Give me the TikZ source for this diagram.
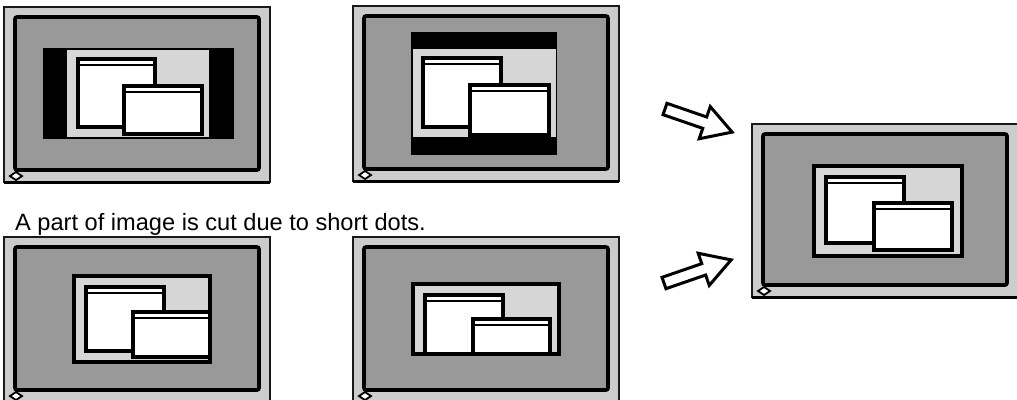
\documentclass[tikz,border=0pt]{standalone}
\usepackage{fontspec}
\setmainfont{Liberation Sans}
\usepackage{xcolor}
\definecolor{bezelgray}{HTML}{CCCCCC}
\definecolor{screengray}{HTML}{999999}
\definecolor{imagegray}{HTML}{D6D6D6}
\tikzstyle{bezel} = [draw=black!90, line width=2pt, fill=bezelgray]
\tikzstyle{screen} = [draw=black, line width=3.6pt, rounded corners=2pt, fill=screengray]
\tikzstyle{framed} = [draw=black, line width=3.4pt, fill=imagegray]
\tikzstyle{plain} = [fill=imagegray]
\tikzstyle{window} = [draw=black, line width=3.2pt, fill=white]
\tikzstyle{titlebar} = [draw=black, line width=2pt]
\tikzstyle{knob} = [draw=black, line width=1.8pt, fill=white]
\tikzstyle{hollow} = [draw=black, line width=3pt, fill=white, line join=miter]
\tikzstyle{note} = [anchor=base west, inner sep=0pt, font=\fontsize{23.6}{28}\selectfont]

\begin{document}
\begin{tikzpicture}[x=1pt, y=-1pt]
    \useasboundingbox (0,0) rectangle (1017,399);
    \clip (0,0) rectangle (1017,399);

    % monitors: bezel, screen, knob
    \foreach \mx/\my/\mh in {4/7/175, 353/6/175, 4/237/165, 353/237/165, 752/124/173} {
        \draw[bezel] (\mx,\my) rectangle (\mx+266,\my+\mh);
        \draw[black, line width=3pt] (\mx,\my+\mh) -- (\mx+266,\my+\mh);
        \draw[screen] (\mx+11,\my+10) rectangle (\mx+255,\my+\mh-12);
        \draw[knob] (\mx+12,\my+\mh-10) -- (\mx+18,\my+\mh-6) -- (\mx+12,\my+\mh-2) -- (\mx+6,\my+\mh-6) -- cycle;
    }

    % shown images
    \fill[black] (43,48) rectangle (234,139);
    \fill[plain] (67,50) rectangle (209,137);
    \fill[black] (411,32) rectangle (557,155);
    \fill[plain] (413,49) rectangle (556,137);
    \draw[framed] (74,276) rectangle (210,362);
    \draw[framed] (413,284) rectangle (559,354);
    \draw[framed] (814,166) rectangle (962,256);

    % windows, back one first
    \foreach \xa/\ya/\xb/\yb in {78/59/155/127, 124/86/202/134,
                                 423/58/501/127, 470/85/549/135,
                                 86/287/164/351, 133/312/210/357,
                                 425/295/503/354, 473/319/550/354,
                                 826/177/904/243, 874/203/952/250} {
        \draw[window] (\xa,\ya) rectangle (\xb,\yb);
        \draw[titlebar] (\xa,\ya+6) -- (\xb,\ya+6);
    }
    \draw[black, line width=3.4pt] (413,354) -- (559,354);

    % caption
    \node (cutnote) [note] at (15,230) {A part of image is cut due to short dots.};

    % hollow arrows
    \begin{scope}[shift={(665,109)}, rotate=-19]
        \draw[hollow] (0,-6) -- (42,-6) -- (42,-17) -- (71,0) -- (42,17) -- (42,6) -- (0,6) -- cycle;
    \end{scope}
    \begin{scope}[shift={(664,283)}, rotate=19]
        \draw[hollow] (0,-6) -- (42,-6) -- (42,-17) -- (71,0) -- (42,17) -- (42,6) -- (0,6) -- cycle;
    \end{scope}
\end{tikzpicture}
\end{document}
